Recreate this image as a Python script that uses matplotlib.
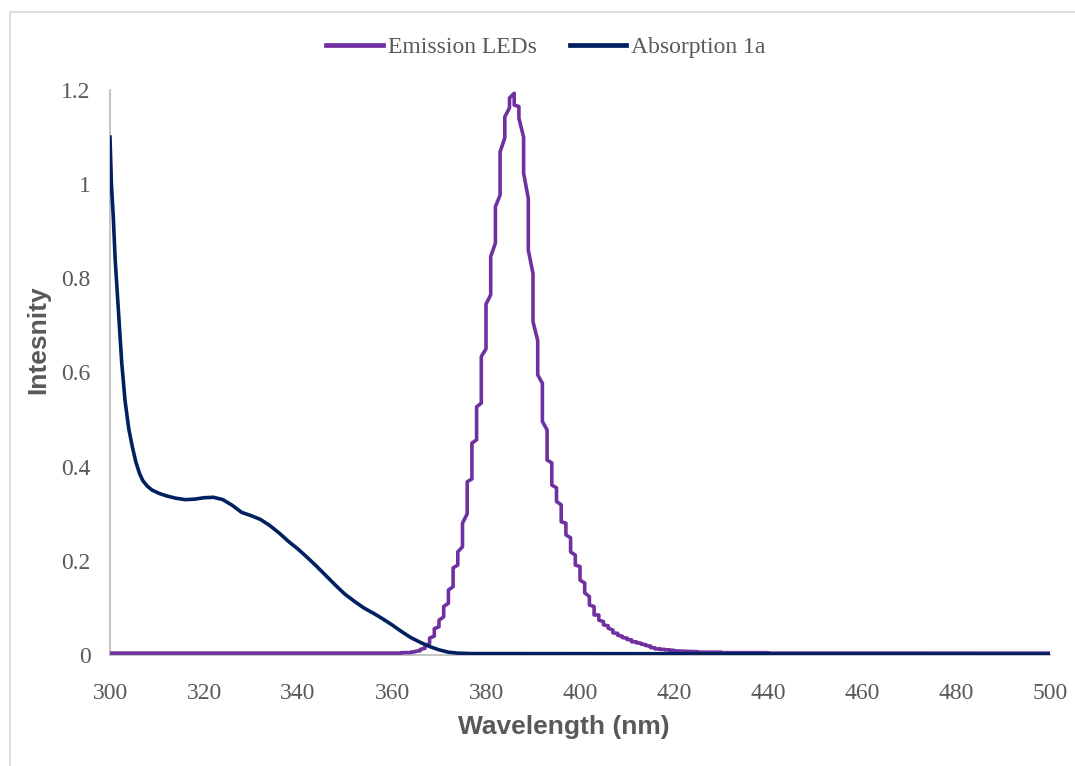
import matplotlib
matplotlib.use("Agg")
import matplotlib.pyplot as plt
from matplotlib.patches import Rectangle
import numpy as np

# Emission LEDs: wavelengths come in whole nm, each with a first and last reading
em_nm = [300, 361, 362, 363, 364, 365, 366, 367, 368, 369, 370, 371, 372, 373, 374,
         375, 376, 377, 378, 379, 380, 381, 382, 383, 384, 385, 386, 387, 388, 389,
         390, 391, 392, 393, 394, 395, 396, 397, 398, 399, 400, 401, 402, 403, 404,
         405, 406, 407, 408, 409, 410, 411, 412, 413, 414, 415, 416, 417, 418, 419,
         420, 422, 425, 430, 440, 500]
em_first = [0.004, 0.004, 0.004, 0.005, 0.005, 0.007, 0.009, 0.014, 0.024, 0.040, 0.060,
            0.081, 0.110, 0.145, 0.191, 0.230, 0.300, 0.374, 0.457, 0.535, 0.650, 0.765,
            0.875, 0.977, 1.098, 1.162, 1.193, 1.165, 1.100, 0.970, 0.810, 0.668, 0.577,
            0.478, 0.408, 0.355, 0.319, 0.280, 0.249, 0.212, 0.188, 0.153, 0.124, 0.103,
            0.085, 0.071, 0.062, 0.053, 0.046, 0.040, 0.036, 0.032, 0.028, 0.025, 0.022,
            0.019, 0.015, 0.013, 0.012, 0.011, 0.010, 0.008, 0.007, 0.006, 0.005, 0.004]
em_last = [0.004, 0.004, 0.005, 0.005, 0.006, 0.008, 0.012, 0.020, 0.036, 0.056, 0.074,
           0.103, 0.138, 0.185, 0.219, 0.280, 0.368, 0.450, 0.527, 0.634, 0.745, 0.846,
           0.952, 1.069, 1.143, 1.183, 1.168, 1.140, 1.023, 0.860, 0.708, 0.595, 0.496,
           0.414, 0.361, 0.326, 0.283, 0.255, 0.219, 0.191, 0.159, 0.132, 0.106, 0.085,
           0.074, 0.064, 0.057, 0.047, 0.042, 0.037, 0.033, 0.028, 0.026, 0.023, 0.020,
           0.016, 0.013, 0.012, 0.011, 0.010, 0.009, 0.008, 0.006, 0.005, 0.004, 0.004]

# Absorption 1a
abs_nm = [300, 300.3, 300.7, 301.1, 301.8, 302.5, 303.2, 304, 304.8, 305.5, 306.3, 307,
          308, 309, 310.5, 312, 314, 316, 318, 320, 322, 324, 326, 328, 330, 332, 334,
          336, 338, 340, 342, 344, 346, 348, 350, 352, 354, 356, 358, 360, 362, 364,
          366, 368, 370, 372, 374, 377, 385, 500]
abs_val = [1.10, 1.00, 0.93, 0.84, 0.73, 0.62, 0.54, 0.48, 0.44, 0.41, 0.385, 0.37,
           0.358, 0.350, 0.343, 0.338, 0.333, 0.330, 0.331, 0.334, 0.335, 0.330, 0.318,
           0.303, 0.296, 0.288, 0.275, 0.259, 0.241, 0.225, 0.207, 0.188, 0.168, 0.148,
           0.129, 0.114, 0.100, 0.089, 0.077, 0.064, 0.050, 0.037, 0.027, 0.018, 0.011,
           0.006, 0.004, 0.003, 0.003, 0.002]

x_ticks = np.arange(300, 501, 20)
y_ticks = [0, 0.2, 0.4, 0.6, 0.8, 1, 1.2]
y_tick_labels = ["0", "0.2", "0.4", "0.6", "0.8", "1", "1.2"]

purple = "#7030A0"
navy = "#002060"
grey = "#595959"

# vertical segment at each nm, then straight on to the next nm
em_x = np.repeat(em_nm, 2)
em_y = np.column_stack([em_first, em_last]).ravel()

fig = plt.figure(figsize=(10.75, 7.66), dpi=100)
ax = fig.add_axes([110 / 1075, 1 - 655 / 766, 940 / 1075, 565 / 766])

l1, = ax.plot(em_x, em_y, color=purple, lw=2.6, label="Emission LEDs", zorder=3)
l2, = ax.plot(abs_nm, abs_val, color=navy, lw=2.6, label="Absorption 1a", zorder=4,
              solid_joinstyle="round")

ax.set_xlim(300, 500)
ax.set_ylim(0, 1.2)
ax.set_xticks(x_ticks)
ax.set_yticks(y_ticks)
ax.set_yticklabels(y_tick_labels)

for s in ["top", "right"]:
    ax.spines[s].set_visible(False)
for s in ["left", "bottom"]:
    ax.spines[s].set_color("#BFBFBF")
    ax.spines[s].set_linewidth(1.3)

ax.tick_params(axis="both", length=0, labelcolor=grey, labelsize=17)
ax.tick_params(axis="x", pad=20)
ax.tick_params(axis="y", pad=14)
for lab in ax.get_xticklabels() + ax.get_yticklabels():
    lab.set_family("Liberation Serif")

ax.set_xlabel("Wavelength (nm)", fontsize=19, fontweight="bold", color=grey,
              family="Liberation Sans")
ax.set_ylabel("Intesnity", fontsize=19, fontweight="bold", color=grey,
              family="Liberation Sans")
ax.xaxis.set_label_coords((564 - 110) / 940, -(727 - 655) / 565)
ax.yaxis.set_label_coords((38 - 110) / 940, (655 - 340) / 565)
ax.xaxis.label.set_va("center")
ax.yaxis.label.set_va("center")

leg = fig.legend(handles=[l1, l2], loc="center", bbox_to_anchor=(546 / 1075, 1 - 47 / 766),
                 ncol=2, frameon=False, handlelength=2.4, handletextpad=0.2,
                 columnspacing=1.4, prop={"family": "Liberation Serif", "size": 17},
                 labelcolor=grey)
for h in leg.legend_handles:
    h.set_linewidth(3.4)

# chart area border
fig.patches.append(Rectangle((10 / 1075, -0.01), 1.0, 1 - 12 / 766 + 0.01,
                             transform=fig.transFigure, fill=False,
                             edgecolor="#D9D9D9", lw=1.2))

fig.savefig("out.png", dpi=100)
